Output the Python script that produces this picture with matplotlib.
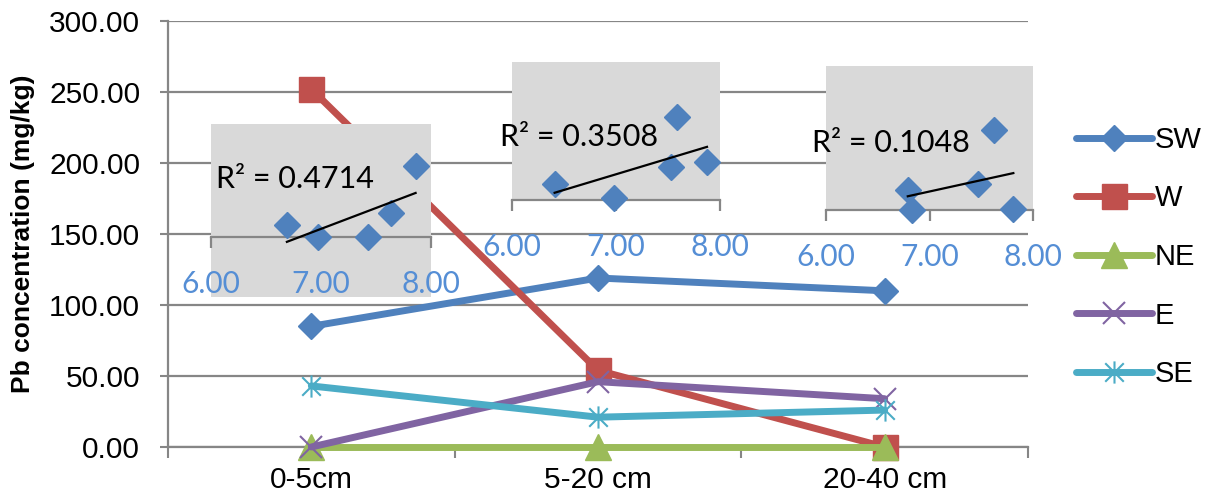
import matplotlib
matplotlib.use('Agg')
import matplotlib.pyplot as plt
import numpy as np
from matplotlib.path import Path

# ---------------- data ----------------
categories = ['0-5cm', '5-20 cm', '20-40 cm']
series_names = ['SW', 'W', 'NE', 'E', 'SE']
sw = [85.0, 119.0, 110.0]
w = [252.0, 54.0, 0.0]
ne = [0.0, 0.0, 0.0]
e = [0.0, 46.0, 34.0]
se = [43.0, 21.0, 26.0]
y_ticks = [0, 50, 100, 150, 200, 250, 300]

inset1_x = [6.69, 6.97, 7.43, 7.64, 7.86]
inset1_y = [12, 0, 0, 24, 71]
inset2_x = [6.41, 6.98, 7.53, 7.59, 7.875]
inset2_y = [16, 2, 33, 83, 38]
inset3_x = [6.79, 6.83, 7.47, 7.62, 7.81]
inset3_y = [20, 0, 26, 80, 1]
r2_labels = ['R\u00b2 = 0.4714', 'R\u00b2 = 0.3508', 'R\u00b2 = 0.1048']
inset_ticks = [6.0, 7.0, 8.0]

# ---------------- style ----------------
plt.rcParams['font.family'] = ['Liberation Sans', 'DejaVu Sans']
GRAY = '#868686'
colors = ['#4F81BD', '#C0504D', '#9BBB59', '#8064A2', '#4BACC6']
aster = Path([(-0.5, -0.5), (0.5, 0.5), (-0.5, 0.5), (0.5, -0.5), (0, -0.6), (0, 0.6)],
             [Path.MOVETO, Path.LINETO] * 3)
markers = ['D', 's', '^', 'x', aster]
msizes = [13, 18, 19, 16, 16]

W_PX, H_PX = 1210, 501
fig = plt.figure(figsize=(W_PX / 100, H_PX / 100), dpi=100)

def rect(l, t, r, b):
    return [l / W_PX, 1 - b / H_PX, (r - l) / W_PX, (b - t) / H_PX]

ax = fig.add_axes(rect(168, 21, 1028, 447))
xs = np.arange(len(categories))
data = [sw, w, ne, e, se]
handles = []
for i, (name, vals) in enumerate(zip(series_names, data)):
    ln, = ax.plot(xs, vals, color=colors[i], lw=5, marker=markers[i], ms=msizes[i],
                  mfc=colors[i] if i < 3 else 'none', mec=colors[i],
                  mew=1.5 if i >= 3 else 1, zorder=3 + i, clip_on=False,
                  solid_capstyle='round', label=name)
    handles.append(ln)

ax.set_xlim(-0.5, len(categories) - 0.5)
ax.set_ylim(0, 300)
ax.set_yticks(y_ticks)
ax.set_yticklabels([f'{v:.2f}' for v in y_ticks])
ax.set_xticks(xs)
ax.set_xticklabels(categories)
ax.set_xticks(np.arange(len(categories) + 1) - 0.5, minor=True)
ax.tick_params(axis='x', which='major', length=0, pad=14, labelsize=21.5)
ax.tick_params(axis='x', which='minor', length=8, width=1.5, color=GRAY, direction='out')
ax.tick_params(axis='y', length=6, width=1.5, color=GRAY, pad=14, labelsize=21.5)
ax.yaxis.grid(True, color=GRAY, lw=1.6)
ax.set_axisbelow(True)
for s in ['top', 'right']:
    ax.spines[s].set_visible(False)
for s in ['left', 'bottom']:
    ax.spines[s].set_color(GRAY)
    ax.spines[s].set_linewidth(1.6)
ax.set_ylabel('Pb concentration (mg/kg)', fontsize=19, fontweight='bold')
ax.yaxis.set_label_coords(-0.155, 0.5)

leg = fig.legend(handles=handles, loc='center left', bbox_to_anchor=(1076 / W_PX, 1 - 257 / H_PX),
                 frameon=False, fontsize=21, handlelength=2.6, handletextpad=0.1,
                 labelspacing=1.05, borderpad=0, borderaxespad=0)

# ---------------- insets ----------------
insets = [
    (rect(211, 124, 431, 297), (-60, 113), inset1_x, inset1_y, (6.045, 58)),
    (rect(512, 62, 720, 201), (-1, 138), inset2_x, inset2_y, (5.885, 63)),
    (rect(826, 66, 1033, 211), (-1, 144), inset3_x, inset3_y, (5.865, 67)),
]
for k, (pos, ylim, ix, iy, tpos) in enumerate(insets):
    ia = fig.add_axes(pos, zorder=10)
    ia.set_facecolor('#D9D9D9')
    ia.set_xlim(6, 8)
    ia.set_ylim(*ylim)
    for s in ['top', 'right', 'left']:
        ia.spines[s].set_visible(False)
    ia.spines['bottom'].set_position(('data', 0))
    ia.spines['bottom'].set_color(GRAY)
    ia.spines['bottom'].set_linewidth(1.6)
    ia.set_yticks([])
    ia.set_xticks(inset_ticks)
    ia.set_xticklabels([f'{t:.2f}' for t in inset_ticks], family=['Lato', 'DejaVu Sans'])
    ia.tick_params(axis='x', length=8, width=1.6, color=GRAY, labelcolor='#558ED5',
                   labelsize=21.5, pad=16)
    for lab in ia.get_xticklabels():
        lab.set_clip_on(False)
    ia.plot(ix, iy, linestyle='none', marker='D', ms=13, color='#4F81BD', zorder=3, clip_on=False)
    coef = np.polyfit(ix, iy, 1)
    fx = np.array([min(ix), max(ix)])
    ia.plot(fx, np.polyval(coef, fx), color='black', lw=1.6, zorder=4, clip_on=False)
    ia.text(tpos[0], tpos[1], r2_labels[k], fontsize=22, family=['Lato', 'DejaVu Sans'],
            ha='left', va='center', zorder=5, clip_on=False)

fig.savefig('out.png', dpi=100)
